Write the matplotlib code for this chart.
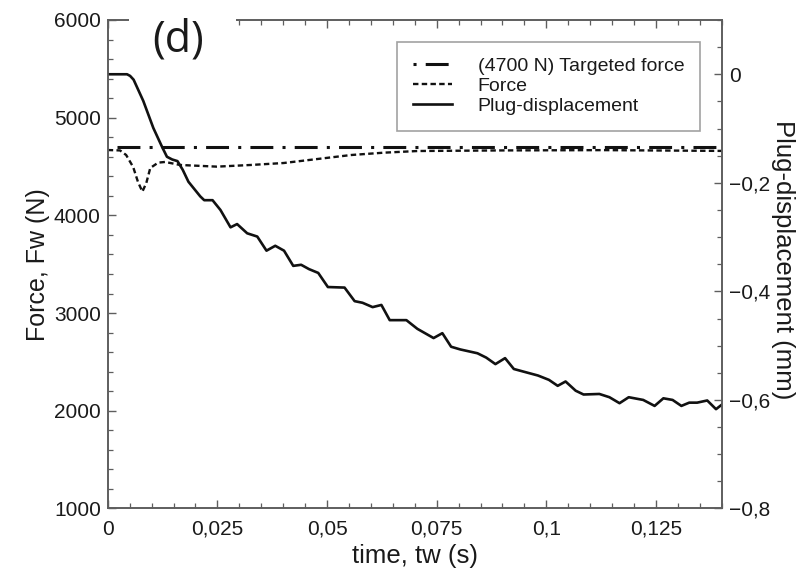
import matplotlib
matplotlib.use("Agg")
import matplotlib.pyplot as plt
from matplotlib.ticker import FixedLocator, FixedFormatter, MultipleLocator
from matplotlib.lines import Line2D
from matplotlib.patches import Rectangle

plt.rcParams['font.family'] = ['Liberation Sans', 'DejaVu Sans']

# ---- data ----
t_target = [0.002, 0.14]
f_target = [4700, 4700]

t_force = [0.0, 0.0028, 0.0042, 0.0058, 0.0069, 0.0079, 0.0088, 0.0097, 0.0115, 0.0131,
           0.0165, 0.0249, 0.0326, 0.0401, 0.0478, 0.0555, 0.063, 0.0707, 0.09, 0.113, 0.14]
f_force = [4669, 4665, 4618, 4495, 4342, 4243, 4332, 4485, 4540, 4547,
           4516, 4499, 4516, 4536, 4577, 4618, 4642, 4659, 4665, 4668, 4660]

t_disp = [0.0, 0.0028, 0.0044, 0.0051, 0.0059, 0.0081, 0.0104, 0.0124, 0.0135, 0.0147,
          0.0159, 0.0171, 0.0184, 0.0211, 0.0220, 0.0239, 0.0257, 0.0280, 0.0295, 0.0318,
          0.0341, 0.0362, 0.0382, 0.0402, 0.0423, 0.0441, 0.0459, 0.0480, 0.0502, 0.0540,
          0.0563, 0.0581, 0.0604, 0.0624, 0.0643, 0.0681, 0.0706, 0.0743, 0.0763, 0.0783,
          0.0804, 0.0843, 0.0863, 0.0884, 0.0906, 0.0926, 0.0958, 0.0981, 0.1006, 0.1026,
          0.1044, 0.1067, 0.1085, 0.1121, 0.1144, 0.1167, 0.1188, 0.1221, 0.1247, 0.1267,
          0.1288, 0.1308, 0.1326, 0.1344, 0.1367, 0.1387, 0.1403]
d_disp = [0.0, 0.0, 0.0, -0.003, -0.010, -0.049, -0.099, -0.134, -0.152, -0.157,
          -0.160, -0.176, -0.198, -0.225, -0.232, -0.232, -0.250, -0.282, -0.276, -0.293,
          -0.299, -0.325, -0.316, -0.325, -0.353, -0.351, -0.359, -0.366, -0.392, -0.393,
          -0.418, -0.421, -0.429, -0.425, -0.453, -0.453, -0.469, -0.486, -0.477, -0.502,
          -0.507, -0.514, -0.522, -0.534, -0.523, -0.543, -0.550, -0.555, -0.563, -0.574,
          -0.566, -0.583, -0.590, -0.589, -0.595, -0.606, -0.595, -0.600, -0.611, -0.597,
          -0.600, -0.611, -0.605, -0.605, -0.601, -0.617, -0.607]

x_ticks = [0, 0.025, 0.05, 0.075, 0.1, 0.125]
x_labels = ['0', '0,025', '0,05', '0,075', '0,1', '0,125']
yl_ticks = [1000, 2000, 3000, 4000, 5000, 6000]
yl_labels = ['1000', '2000', '3000', '4000', '5000', '6000']
yr_ticks = [0, -0.2, -0.4, -0.6, -0.8]
yr_labels = ['0', '\u22120,2', '\u22120,4', '\u22120,6', '\u22120,8']
legend_labels = ['(4700 N) Targeted force', 'Force', 'Plug-displacement']

# ---- figure ----
W, H = 798, 576
fig = plt.figure(figsize=(W / 100, H / 100), dpi=100)
ax = fig.add_axes([0.135, 0.1172, 0.7694, 0.8481])
ax2 = ax.twinx()

spine_c = '#5e5e5e'
text_c = '#1a1a1a'
line_c = '#111111'

l1, = ax.plot(t_target, f_target, color=line_c, lw=2.2, dashes=(7.5, 3, 1, 3))
l2, = ax.plot(t_force, f_force, color=line_c, lw=1.7, dashes=(2.3, 1.4))
l3, = ax2.plot(t_disp, d_disp, color=line_c, lw=1.9)

ax.set_xlim(0, 0.14)
ax.set_ylim(1000, 6000)
ax2.set_ylim(-0.8, 0.1)

ax.xaxis.set_major_locator(FixedLocator(x_ticks))
ax.xaxis.set_major_formatter(FixedFormatter(x_labels))
ax.xaxis.set_minor_locator(MultipleLocator(0.005))
ax.yaxis.set_major_locator(FixedLocator(yl_ticks))
ax.yaxis.set_major_formatter(FixedFormatter(yl_labels))
ax.yaxis.set_minor_locator(MultipleLocator(200))
ax2.yaxis.set_major_locator(FixedLocator(yr_ticks))
ax2.yaxis.set_major_formatter(FixedFormatter(yr_labels))
ax2.yaxis.set_minor_locator(MultipleLocator(0.05))

for a in (ax, ax2):
    for s in a.spines.values():
        s.set_color(spine_c)
        s.set_linewidth(1.2)

ax.tick_params(axis='x', which='both', direction='in', top=True, colors=spine_c,
               labelcolor=text_c, labelsize=15, pad=8)
ax.tick_params(axis='y', which='both', direction='in', right=False, colors=spine_c,
               labelcolor=text_c, labelsize=15, pad=5)
ax2.tick_params(axis='y', which='both', direction='in', colors=spine_c,
                labelcolor=text_c, labelsize=15, pad=5)
for a in (ax, ax2):
    a.tick_params(which='major', length=6, width=1.0)
    a.tick_params(which='minor', length=3.5, width=0.9)

ax.set_xlabel('time, tw (s)', fontsize=18.5, color=text_c, labelpad=4)
ax.set_ylabel('Force, Fw (N)', fontsize=18, color=text_c, labelpad=3)
ax2.set_ylabel('Plug-displacement (mm)', fontsize=18.5, color=text_c, rotation=-90,
               ha='center', va='center')
ax2.yaxis.set_label_coords(1.100, 0.51)

# legend proxy handles (same styles, dash phase as in the reference key)
h1 = Line2D([], [], color=line_c, lw=2.2, linestyle=(10.5, (7.5, 3, 1, 3)))
h2 = Line2D([], [], color=line_c, lw=1.7, dashes=(2.3, 1.4))
h3 = Line2D([], [], color=line_c, lw=1.9)
leg = ax2.legend([h1, h2, h3], legend_labels, loc='upper right',
                 bbox_to_anchor=(700 / W, 1 - 42 / H), bbox_transform=fig.transFigure,
                 fontsize=14, frameon=True, fancybox=False, handlelength=2.0,
                 handletextpad=1.35, labelspacing=0.12, borderpad=0.8, borderaxespad=0)
leg.get_frame().set_edgecolor('#8a8a8a')
leg.get_frame().set_linewidth(1.2)
for txt in leg.get_texts():
    txt.set_color(text_c)

# white patch behind the panel label, hiding part of the top frame
fig.patches.append(Rectangle((129 / W, 1 - 32 / H), 107 / W, 32 / H,
                             transform=fig.transFigure, facecolor='white',
                             edgecolor='none', zorder=5))
fig.text(178 / W, 1 - 40 / H, '(d)', fontsize=31, family=['Open Sans', 'DejaVu Sans'],
         color=text_c, ha='center', va='center', zorder=6)

fig.savefig('out.png', dpi=100)
